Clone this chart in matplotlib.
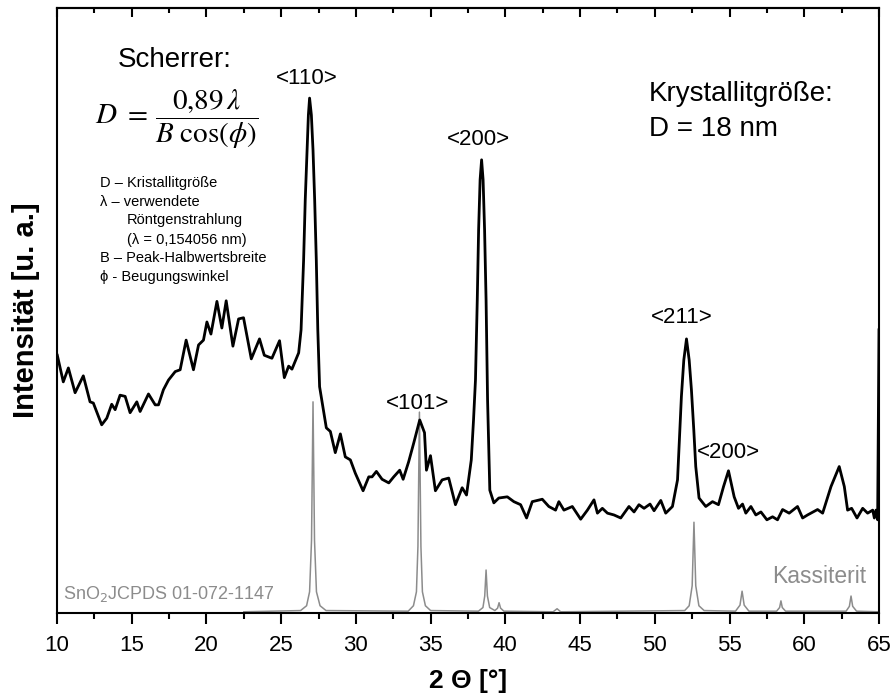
import matplotlib

matplotlib.use("Agg")
import matplotlib.pyplot as plt
from matplotlib.ticker import MultipleLocator

plt.rcParams["font.family"] = ["Liberation Sans", "DejaVu Sans"]

# measured XRD pattern (2 theta in degrees, intensity in a.u.)
sample_2theta = [
    10.02, 10.42, 10.76, 11.21, 11.76, 12.21, 12.43, 12.99, 13.33, 13.66,
    13.89, 14.22, 14.56, 14.89, 15.34, 15.56, 16.12, 16.57, 16.79, 17.12,
    17.46, 17.91, 18.24, 18.64, 19.13, 19.47, 19.80, 20.03, 20.30, 20.70,
    21.03, 21.32, 21.77, 22.15, 22.48, 23.00, 23.55, 23.87, 24.38, 24.89,
    25.21, 25.50, 25.72, 26.17, 26.33, 26.50, 26.61, 26.73, 26.82, 26.90,
    27.02, 27.13, 27.24, 27.35, 27.45, 27.57, 28.02, 28.29, 28.62, 28.96,
    29.29, 29.63, 29.96, 30.48, 30.86, 31.08, 31.37, 31.75, 32.20, 32.53,
    32.93, 33.16, 33.53, 33.87, 34.27, 34.59, 34.72, 34.99, 35.32, 35.77,
    36.21, 36.66, 37.11, 37.40, 37.72, 37.87, 38.00, 38.12, 38.21, 38.31,
    38.41, 38.51, 38.61, 38.71, 38.81, 38.96, 39.23, 39.56, 40.13, 40.57,
    41.02, 41.42, 41.80, 42.47, 42.91, 43.36, 43.58, 43.92, 44.48, 45.04,
    45.49, 45.93, 46.16, 46.49, 46.83, 47.27, 47.72, 48.27, 48.61, 48.94,
    49.28, 49.68, 49.95, 50.40, 50.73, 51.18, 51.52, 51.78, 51.94, 52.12,
    52.30, 52.45, 52.61, 52.74, 52.96, 53.41, 53.86, 54.26, 54.60, 54.93,
    55.31, 55.60, 55.87, 56.09, 56.43, 56.76, 57.10, 57.50, 57.88, 58.21,
    58.55, 58.99, 59.55, 59.89, 60.22, 60.89, 61.23, 61.79, 62.34, 62.68,
    62.90, 63.17, 63.53, 63.91, 64.24, 64.58, 64.69, 64.80, 64.91, 65.00,
]
sample_int = [
    42.6, 38.2, 40.5, 36.4, 39.2, 34.9, 34.7, 31.1, 32.2, 34.5,
    33.6, 36.0, 35.8, 33.1, 34.9, 33.3, 36.2, 34.4, 34.4, 36.9,
    38.5, 39.9, 40.2, 45.1, 40.2, 44.3, 45.1, 48.1, 46.1, 51.5,
    47.1, 51.6, 44.1, 48.6, 48.8, 42.0, 45.3, 42.6, 42.1, 45.0,
    38.9, 40.8, 40.3, 43.0, 46.8, 58.3, 68.3, 76.5, 82.3, 85.1,
    82.3, 76.5, 68.3, 58.3, 46.8, 37.4, 30.6, 30.0, 26.5, 29.6,
    25.8, 25.3, 23.1, 20.2, 22.5, 22.5, 23.4, 22.1, 21.5, 22.5,
    23.6, 22.1, 25.0, 28.1, 31.9, 29.8, 23.6, 26.0, 20.2, 22.0,
    22.3, 17.9, 20.7, 19.5, 25.3, 31.9, 38.5, 51.7, 63.3, 71.6,
    74.9, 71.6, 63.3, 51.7, 35.2, 20.3, 18.2, 19.0, 19.2, 18.4,
    17.9, 15.7, 18.4, 18.8, 17.6, 17.0, 18.4, 17.0, 17.6, 15.5,
    17.0, 18.7, 16.5, 17.3, 16.5, 16.2, 15.7, 17.6, 16.7, 17.9,
    17.3, 18.0, 16.9, 18.6, 16.5, 17.6, 22.0, 35.8, 41.8, 45.3,
    41.8, 36.9, 30.2, 24.2, 19.0, 17.6, 18.4, 17.9, 20.9, 23.5,
    19.2, 17.3, 18.0, 16.5, 17.6, 16.2, 16.7, 15.4, 15.9, 15.4,
    17.1, 16.5, 17.6, 15.7, 16.2, 17.1, 16.5, 20.9, 24.2, 20.9,
    17.0, 17.3, 15.7, 17.3, 16.5, 17.0, 15.7, 17.0, 15.4, 46.8,
]

# SnO2 reference pattern, JCPDS 01-072-1147 (Kassiterit)
ref_2theta = [
    22.5, 26.3, 26.7, 26.9, 27.03, 27.13, 27.23, 27.36, 27.6, 28.0,
    33.5, 33.85, 34.05, 34.15, 34.25, 34.35, 34.45, 34.65, 35.0,
    38.2, 38.5, 38.62, 38.71, 38.8, 38.95, 39.3, 39.48, 39.58, 39.68, 39.9,
    43.2, 43.46, 43.7,
    52.0, 52.3, 52.5, 52.62, 52.74, 52.95, 53.3,
    55.4, 55.7, 55.84, 55.98, 56.3,
    58.15, 58.35, 58.44, 58.53, 58.75,
    62.8, 63.02, 63.13, 63.24, 63.5, 64.9,
]
ref_int = [
    0.2, 0.4, 1.2, 3.5, 12.0, 34.9, 12.0, 3.5, 1.2, 0.4,
    0.3, 1.2, 3.5, 11.0, 33.2, 11.0, 3.5, 1.2, 0.4,
    0.3, 0.9, 2.8, 7.1, 2.8, 0.9, 0.4, 0.8, 1.7, 0.8, 0.3,
    0.2, 0.7, 0.2,
    0.4, 1.2, 4.5, 15.0, 4.5, 1.2, 0.4,
    0.3, 1.3, 3.6, 1.3, 0.3,
    0.3, 0.9, 2.0, 0.9, 0.3,
    0.3, 1.1, 2.8, 1.1, 0.3, 0.2,
]

# reflex labels: (text, 2theta, intensity)
reflexes = [
    ("<110>", 26.69, 88.4),
    ("<200>", 38.20, 78.2),
    ("<101>", 34.12, 34.7),
    ("<211>", 51.80, 48.9),
    ("<200>", 54.95, 26.6),
]

legend_lines = [
    ("D \u2013 Kristallitgr\u00f6\u00dfe", 0.0523, 0.7107),
    ("\u03bb \u2013 verwendete", 0.0523, 0.6793),
    ("R\u00f6ntgenstrahlung", 0.0852, 0.6496),
    ("(\u03bb = 0,154056 nm)", 0.0852, 0.6165),
    ("B \u2013 Peak-Halbwertsbreite", 0.0523, 0.5868),
    ("\u03d5 - Beugungswinkel", 0.0523, 0.5554),
]

gray = "#8c8c8c"

fig = plt.figure(figsize=(8.95, 6.98), dpi=100)
ax = fig.add_axes([0.0637, 0.1218, 0.9184, 0.8668])

ax.plot(ref_2theta, ref_int, color=gray, lw=1.1, zorder=2)
ax.plot(sample_2theta, sample_int, color="black", lw=2.0, zorder=3,
        solid_joinstyle="round")

ax.set_xlim(10, 65)
ax.set_ylim(0, 100)
ax.set_yticks([])

ax.xaxis.set_major_locator(MultipleLocator(5))
ax.xaxis.set_minor_locator(MultipleLocator(2.5))
ax.tick_params(axis="x", which="major", direction="out", length=8, width=1.5,
               labelsize=16, pad=8)
ax.tick_params(axis="x", which="minor", direction="out", length=4, width=1.5)

top = ax.secondary_xaxis("top")
top.xaxis.set_major_locator(MultipleLocator(5))
top.xaxis.set_minor_locator(MultipleLocator(2.5))
top.tick_params(which="major", direction="in", length=6.5, width=1.5, labeltop=False)
top.tick_params(which="minor", direction="in", length=3.5, width=1.5)
top.spines["top"].set_linewidth(1.5)

for side in ["left", "right", "bottom", "top"]:
    ax.spines[side].set_linewidth(1.5)

ax.set_xlabel("2 \u0398 [\u00b0]", fontsize=19, fontweight="bold", labelpad=9)
ax.set_ylabel("Intensit\u00e4t [u. a.]", fontsize=21, fontweight="bold", labelpad=12)

for txt, x, y in reflexes:
    ax.text(x, y, txt, fontsize=16, ha="center", va="center")

ax.text(0.1436, 0.914, "Scherrer:", transform=ax.transAxes, fontsize=20,
        ha="center", va="center")
ax.text(0.0462, 0.816, r"$D\ =\,\dfrac{0{,}89\,\lambda}{B\ \cos(\phi)}$",
        transform=ax.transAxes, fontsize=21, ha="left", va="center",
        math_fontfamily="stix")
for txt, x, y in legend_lines:
    ax.text(x, y, txt, transform=ax.transAxes, fontsize=10.5, ha="left", va="center")

ax.text(49.59, 85.8, "Krystallitgr\u00f6\u00dfe:", fontsize=20, ha="left", va="center")
ax.text(49.59, 80.0, "D = 18 nm", fontsize=20, ha="left", va="center")

ax.text(64.13, 6.1, "Kassiterit", fontsize=16.5, color=gray, ha="right", va="center")
ax.text(10.40, 3.1, "SnO$_2$JCPDS 01-072-1147", fontsize=13, color=gray,
        ha="left", va="center")

fig.savefig("out.png", dpi=100)
